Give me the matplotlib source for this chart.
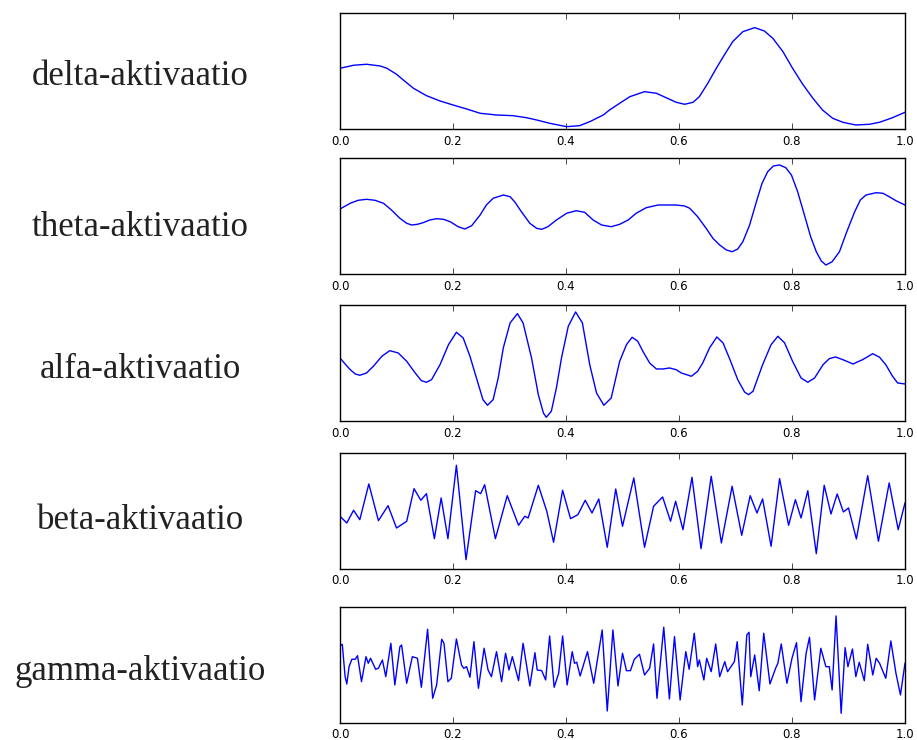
import matplotlib
matplotlib.use('Agg')
import matplotlib.pyplot as plt

labels = ['delta-aktivaatio', 'theta-aktivaatio', 'alfa-aktivaatio',
          'beta-aktivaatio', 'gamma-aktivaatio']

# values (arbitrary amplitude units)
delta_x = [0.0, 0.024, 0.047, 0.071, 0.083, 0.1, 0.112, 0.13, 0.153, 0.177,
           0.2, 0.224, 0.248, 0.277, 0.306, 0.33, 0.348, 0.371, 0.401, 0.424,
           0.442, 0.466, 0.477, 0.495, 0.513, 0.539, 0.56, 0.577, 0.595, 0.61,
           0.625, 0.636, 0.651, 0.666, 0.681, 0.695, 0.713, 0.734, 0.751, 0.766,
           0.784, 0.801, 0.819, 0.837, 0.854, 0.872, 0.89, 0.913, 0.937, 0.955,
           0.978, 1.0]
delta_y = [60.7, 63.7, 64.7, 63, 60.7, 54.7, 49, 40.7, 33.3, 28,
           24, 20, 15.7, 14, 13.3, 11.3, 9, 5.7, 2.3, 3.3,
           7.3, 14, 19, 25.7, 32.3, 37.3, 35.7, 31.3, 26.7, 24.7,
           26.7, 32.3, 45.7, 60.7, 74.7, 87.3, 97.3, 101.3, 98, 90.7,
           77.3, 60.7, 44.7, 30.7, 19, 10.7, 6.7, 4, 4.7, 6.7,
           11.3, 16.7]

theta_x = [0.0, 0.018, 0.032, 0.047, 0.062, 0.077, 0.091, 0.106, 0.118, 0.127,
           0.137, 0.147, 0.159, 0.171, 0.183, 0.195, 0.209, 0.221, 0.233, 0.248,
           0.259, 0.271, 0.289, 0.301, 0.309, 0.321, 0.336, 0.348, 0.357, 0.368,
           0.383, 0.401, 0.418, 0.433, 0.448, 0.463, 0.48, 0.495, 0.51, 0.524,
           0.542, 0.563, 0.58, 0.595, 0.61, 0.619, 0.633, 0.648, 0.66, 0.672,
           0.684, 0.694, 0.704, 0.713, 0.725, 0.737, 0.747, 0.757, 0.767, 0.778,
           0.789, 0.799, 0.81, 0.822, 0.833, 0.843, 0.852, 0.86, 0.871, 0.884,
           0.897, 0.911, 0.921, 0.931, 0.949, 0.961, 0.972, 0.984, 1.0]
theta_y = [65.3, 71, 74, 75, 74, 71, 64.3, 56, 51, 49.3,
           50, 51.6, 54.3, 55.6, 55, 52.6, 47.6, 45.3, 48.6, 59.3,
           69.3, 76, 79.3, 77.6, 72.6, 62.6, 51, 46, 45, 47.6,
           54.3, 61, 63.6, 62, 54.3, 49.3, 47.6, 50, 54.3, 61,
           66.6, 69.3, 69.3, 69.3, 68.3, 66, 57.6, 46, 36, 29.3,
           24.3, 22.6, 25.3, 32.6, 49.3, 72.6, 91, 102.6, 108.3, 109.3,
           106.6, 99.3, 82.6, 59.3, 37.6, 22.6, 13.3, 9.3, 12.6, 22.6,
           42.6, 62.6, 74.3, 79.3, 81.6, 81, 77.6, 73.6, 69.3]

alfa_x = [0.0, 0.009, 0.018, 0.027, 0.035, 0.047, 0.059, 0.074, 0.088, 0.103,
          0.118, 0.133, 0.144, 0.153, 0.162, 0.177, 0.192, 0.206, 0.218, 0.23,
          0.245, 0.253, 0.261, 0.271, 0.28, 0.289, 0.301, 0.314, 0.324, 0.339,
          0.351, 0.36, 0.365, 0.374, 0.383, 0.392, 0.404, 0.417, 0.429, 0.442,
          0.454, 0.467, 0.48, 0.495, 0.507, 0.517, 0.527, 0.536, 0.548, 0.56,
          0.572, 0.583, 0.595, 0.604, 0.622, 0.633, 0.642, 0.654, 0.667, 0.678,
          0.689, 0.704, 0.716, 0.723, 0.731, 0.748, 0.763, 0.775, 0.787, 0.801,
          0.816, 0.828, 0.84, 0.855, 0.866, 0.877, 0.89, 0.908, 0.925, 0.943,
          0.955, 0.966, 0.978, 0.987, 1.0]
alfa_y = [63.3, 57.3, 51.6, 47.3, 46, 48.3, 55, 65, 70.6, 68.3,
          60, 48.3, 40.6, 39, 41.6, 56.6, 76.6, 89, 83.3, 65,
          36.6, 21.6, 16, 21.6, 43.3, 73.3, 98.3, 107.6, 98.3, 63.3,
          26.6, 8.3, 4, 10, 33.3, 63.3, 95, 109.3, 98.3, 56.6,
          28.3, 16, 23.3, 60, 76.6, 84, 80, 70, 58.3, 52.3,
          52.3, 53.3, 51.6, 48.3, 45, 50, 58.3, 73.3, 84.3, 78.3,
          63.3, 41.6, 29.3, 26.6, 30, 56.6, 76.6, 85, 78.3, 60,
          43.3, 39, 43.3, 56.6, 62.6, 64.3, 61.6, 57.3, 61.6, 67.6,
          64, 56.6, 45, 38.3, 37.3]

beta_x = [0.0, 0.012, 0.024, 0.035, 0.051, 0.068, 0.085, 0.1, 0.118, 0.131,
          0.143, 0.153, 0.167, 0.179, 0.191, 0.206, 0.223, 0.24, 0.249, 0.256,
          0.275, 0.296, 0.316, 0.327, 0.333, 0.351, 0.366, 0.378, 0.394, 0.408,
          0.421, 0.434, 0.446, 0.458, 0.473, 0.488, 0.5, 0.52, 0.539, 0.555,
          0.571, 0.585, 0.594, 0.607, 0.623, 0.639, 0.657, 0.675, 0.694, 0.711,
          0.726, 0.738, 0.748, 0.763, 0.778, 0.794, 0.806, 0.816, 0.828, 0.843,
          0.857, 0.869, 0.88, 0.891, 0.9, 0.914, 0.934, 0.953, 0.972, 0.988,
          1.0]
beta_y = [52.4, 45.7, 58.4, 49, 84.7, 48, 63, 40.7, 47.4, 80,
          68.4, 75, 30, 70.7, 30, 103.4, 9, 78, 75, 84,
          30, 73, 43.4, 52.4, 50.7, 83.4, 57.4, 26.4, 78.4, 50,
          54, 68.4, 55.7, 69.7, 21.4, 79.7, 42.4, 90.7, 21.4, 62.4,
          71.7, 47.4, 67.4, 39, 91.4, 20, 92.4, 25.7, 82.4, 33.4,
          73, 55.7, 69.7, 22.4, 90, 43.4, 69, 50.7, 78, 15,
          83.4, 54.7, 74.7, 56.7, 60.7, 29.7, 93, 27.4, 85.7, 39,
          65.7]

gamma_x = [0.0, 0.004, 0.009, 0.012, 0.016, 0.021, 0.027, 0.031, 0.038, 0.046,
           0.05, 0.054, 0.063, 0.068, 0.075, 0.081, 0.09, 0.097, 0.106, 0.109,
           0.118, 0.128, 0.137, 0.144, 0.155, 0.164, 0.171, 0.18, 0.184, 0.191,
           0.197, 0.206, 0.215, 0.219, 0.224, 0.23, 0.237, 0.245, 0.255, 0.262,
           0.268, 0.277, 0.286, 0.293, 0.299, 0.305, 0.316, 0.324, 0.336, 0.345,
           0.349, 0.357, 0.364, 0.371, 0.379, 0.387, 0.394, 0.402, 0.411, 0.415,
           0.419, 0.425, 0.438, 0.449, 0.464, 0.473, 0.483, 0.492, 0.5, 0.507,
           0.514, 0.521, 0.53, 0.539, 0.548, 0.555, 0.561, 0.573, 0.583, 0.592,
           0.602, 0.612, 0.618, 0.627, 0.633, 0.636, 0.644, 0.649, 0.657, 0.665,
           0.672, 0.681, 0.686, 0.698, 0.703, 0.712, 0.72, 0.724, 0.727, 0.734,
           0.742, 0.75, 0.761, 0.771, 0.775, 0.781, 0.791, 0.8, 0.808, 0.816,
           0.825, 0.831, 0.84, 0.851, 0.86, 0.866, 0.871, 0.878, 0.887, 0.894,
           0.899, 0.907, 0.913, 0.919, 0.928, 0.934, 0.943, 0.949, 0.955, 0.966,
           0.975, 0.984, 0.992, 1.0]
gamma_y = [77, 78.4, 46, 38.7, 56, 63.4, 63.4, 67, 41, 66,
           59.4, 64.4, 53.4, 54.4, 62.7, 46, 79.4, 37.7, 76, 77.7,
           39.4, 66, 64.4, 35.4, 93.4, 24.4, 37.7, 83.4, 79.4, 41,
           44.4, 83.7, 57.7, 54.4, 56, 45.4, 81, 34.4, 74.4, 52.7,
           46, 71, 41, 69.4, 52.7, 66, 42, 79.4, 36.7, 70,
           52.7, 52, 42.7, 86.7, 35.4, 49.4, 86.7, 37.7, 71, 59.4,
           60.4, 46.7, 71, 39.4, 92.7, 11.7, 92.7, 36.7, 69.4, 52,
           52, 63.4, 68.4, 47.7, 54.4, 78.7, 24.4, 95.4, 23.7, 86,
           22.7, 71, 53.4, 89.4, 56, 62.7, 42.7, 64.4, 51, 78.7,
           46, 61, 51, 61, 81, 17.7, 87.7, 90.4, 46, 67.7,
           32, 89.4, 38.7, 54.4, 59.4, 78.7, 39.4, 64.4, 80, 21,
           69.4, 85.4, 22.7, 74.4, 56, 56, 32.7, 106.7, 9.4, 75,
           56, 73.7, 46, 60.4, 42, 78.4, 47.7, 64.4, 59.4, 44.4,
           81.7, 49.4, 27.7, 59.4]

series = [(delta_x, delta_y), (theta_x, theta_y), (alfa_x, alfa_y),
          (beta_x, beta_y), (gamma_x, gamma_y)]

plt.style.use('classic')
fig = plt.figure(figsize=(9.17, 7.4), dpi=100, facecolor='white')

bottoms = [0.8257, 0.6293, 0.4307, 0.2315, 0.0234]
label_y = [0.896, 0.692, 0.500, 0.297, 0.092]
for label, (xs, ys), b, ly in zip(labels, series, bottoms, label_y):
    ax = fig.add_axes([0.3708, b, 0.6161, 0.1568])
    ax.plot(xs, ys, 'b-', linewidth=1)
    ax.set_xlim(0, 1)
    ax.set_ylim(0, 116)
    ax.set_yticks([])
    ax.set_xticks([0.0, 0.2, 0.4, 0.6, 0.8, 1.0])
    ax.tick_params(axis='x', labelsize=8.5, length=4, direction='in')
    fig.text(0.153, ly, label, ha='center', va='center', color='#222222',
             fontsize=25, family='Liberation Serif')

plt.savefig('out.png', dpi=100, facecolor='white')
